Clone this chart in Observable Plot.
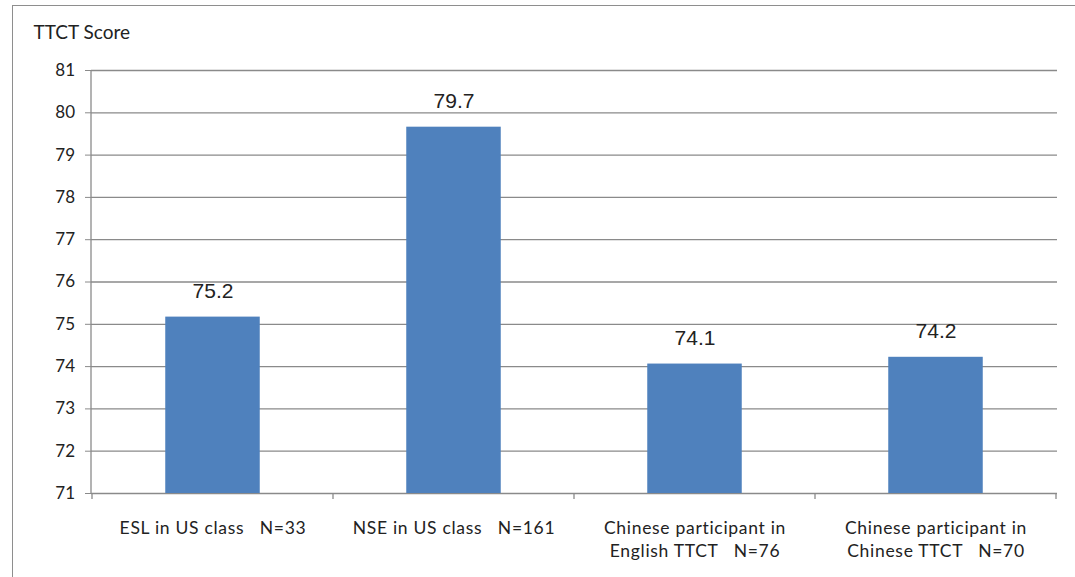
<!DOCTYPE html>
<html>
<head>
<meta charset="utf-8">
<script src="https://cdn.jsdelivr.net/npm/d3@7"></script>
<script src="https://cdn.jsdelivr.net/npm/@observablehq/plot@0.6"></script>
<style>
  html, body { margin: 0; padding: 0; background: #fff; }
  #wrap { position: relative; width: 1075px; height: 577px; overflow: hidden; }
  #frame { position: absolute; left: 12px; top: 5px; right: -2px; bottom: -2px; border-left: 1.5px solid #8e8e8e; border-top: 1.5px solid #8e8e8e; }
  svg text { white-space: pre; }
  g[aria-label="x-axis tick label"] text { letter-spacing: 0.7px; }
  g[aria-label="y-axis tick label"] text { letter-spacing: 0.3px; }
</style>
</head>
<body>
<div id="wrap"><div id="frame"></div></div>
<script>
const categories = [
  "ESL in US class   N=33",
  "NSE in US class   N=161",
  "Chinese participant in\nEnglish TTCT   N=76",
  "Chinese participant in\nChinese TTCT   N=70"
];
const scores = [75.17, 79.66, 74.06, 74.22];
const scoreLabels = ["75.2", "79.7", "74.1", "74.2"];
const yTicks = [71, 72, 73, 74, 75, 76, 77, 78, 79, 80, 81];
const yTitle = "TTCT Score";

const data = categories.map((c, i) => ({category: c, score: scores[i], label: scoreLabels[i]}));

const W = 1075, H = 577;
const mL = 91, mR = 18, mT = 70, mB = 84;
const step = (W - mL - mR) / categories.length;
const barW = 95;
const inset = (step - barW) / 2;

const plot = Plot.plot({
  width: W,
  height: H,
  marginLeft: mL,
  marginRight: mR,
  marginTop: mT,
  marginBottom: mB,
  style: {fontFamily: "Lato, sans-serif", fontSize: "16px", color: "#222", background: "transparent"},
  x: {domain: categories, padding: 0, label: null},
  y: {domain: [71, 81], label: null},
  marks: [
    Plot.ruleY(yTicks, {stroke: "#8a8a8a", strokeWidth: 1.3}),
    Plot.barY(data, {x: "category", y1: 71, y2: "score", fill: "#4f81bd", insetLeft: inset, insetRight: inset}),
    Plot.text(data, {x: "category", y: "score", text: "label", dy: -26, fontSize: 21, fontFamily: "'Liberation Sans', Arial, sans-serif", fill: "#222"}),
    Plot.axisY(yTicks, {tickSize: 6, tickPadding: 10, fontSize: 17, stroke: "#8a8a8a", fill: "#222", tickFormat: d => d}),
    Plot.axisX({tickSize: 0, tickPadding: 24, fontSize: 17.5, fill: "#222", lineHeight: 1.33}),
    Plot.text([yTitle], {frameAnchor: "top-left", dx: -58, dy: -45, fontSize: 19, letterSpacing: 0.4, textAnchor: "start", fill: "#222"})
  ]
});

// vertical axis line and category boundary ticks, via Plot's scales
const xs = plot.scale("x");
const ys = plot.scale("y");
const svg = d3.select(plot);
const y0 = ys.apply(71), y1 = ys.apply(81);
const g = svg.append("g").attr("stroke", "#8a8a8a").attr("stroke-width", 1.3);
g.append("line").attr("x1", mL).attr("x2", mL).attr("y1", y0).attr("y2", y1);
categories.forEach((c, i) => {
  const x = xs.apply(c);
  g.append("line").attr("x1", x).attr("x2", x).attr("y1", y0).attr("y2", y0 + 6);
  if (i === categories.length - 1) {
    const xe = x + xs.bandwidth;
    g.append("line").attr("x1", xe).attr("x2", xe).attr("y1", y0).attr("y2", y0 + 6);
  }
});

plot.style.position = "absolute";
plot.style.left = "0px";
plot.style.top = "0px";
document.getElementById("wrap").appendChild(plot);
</script>
</body>
</html>
